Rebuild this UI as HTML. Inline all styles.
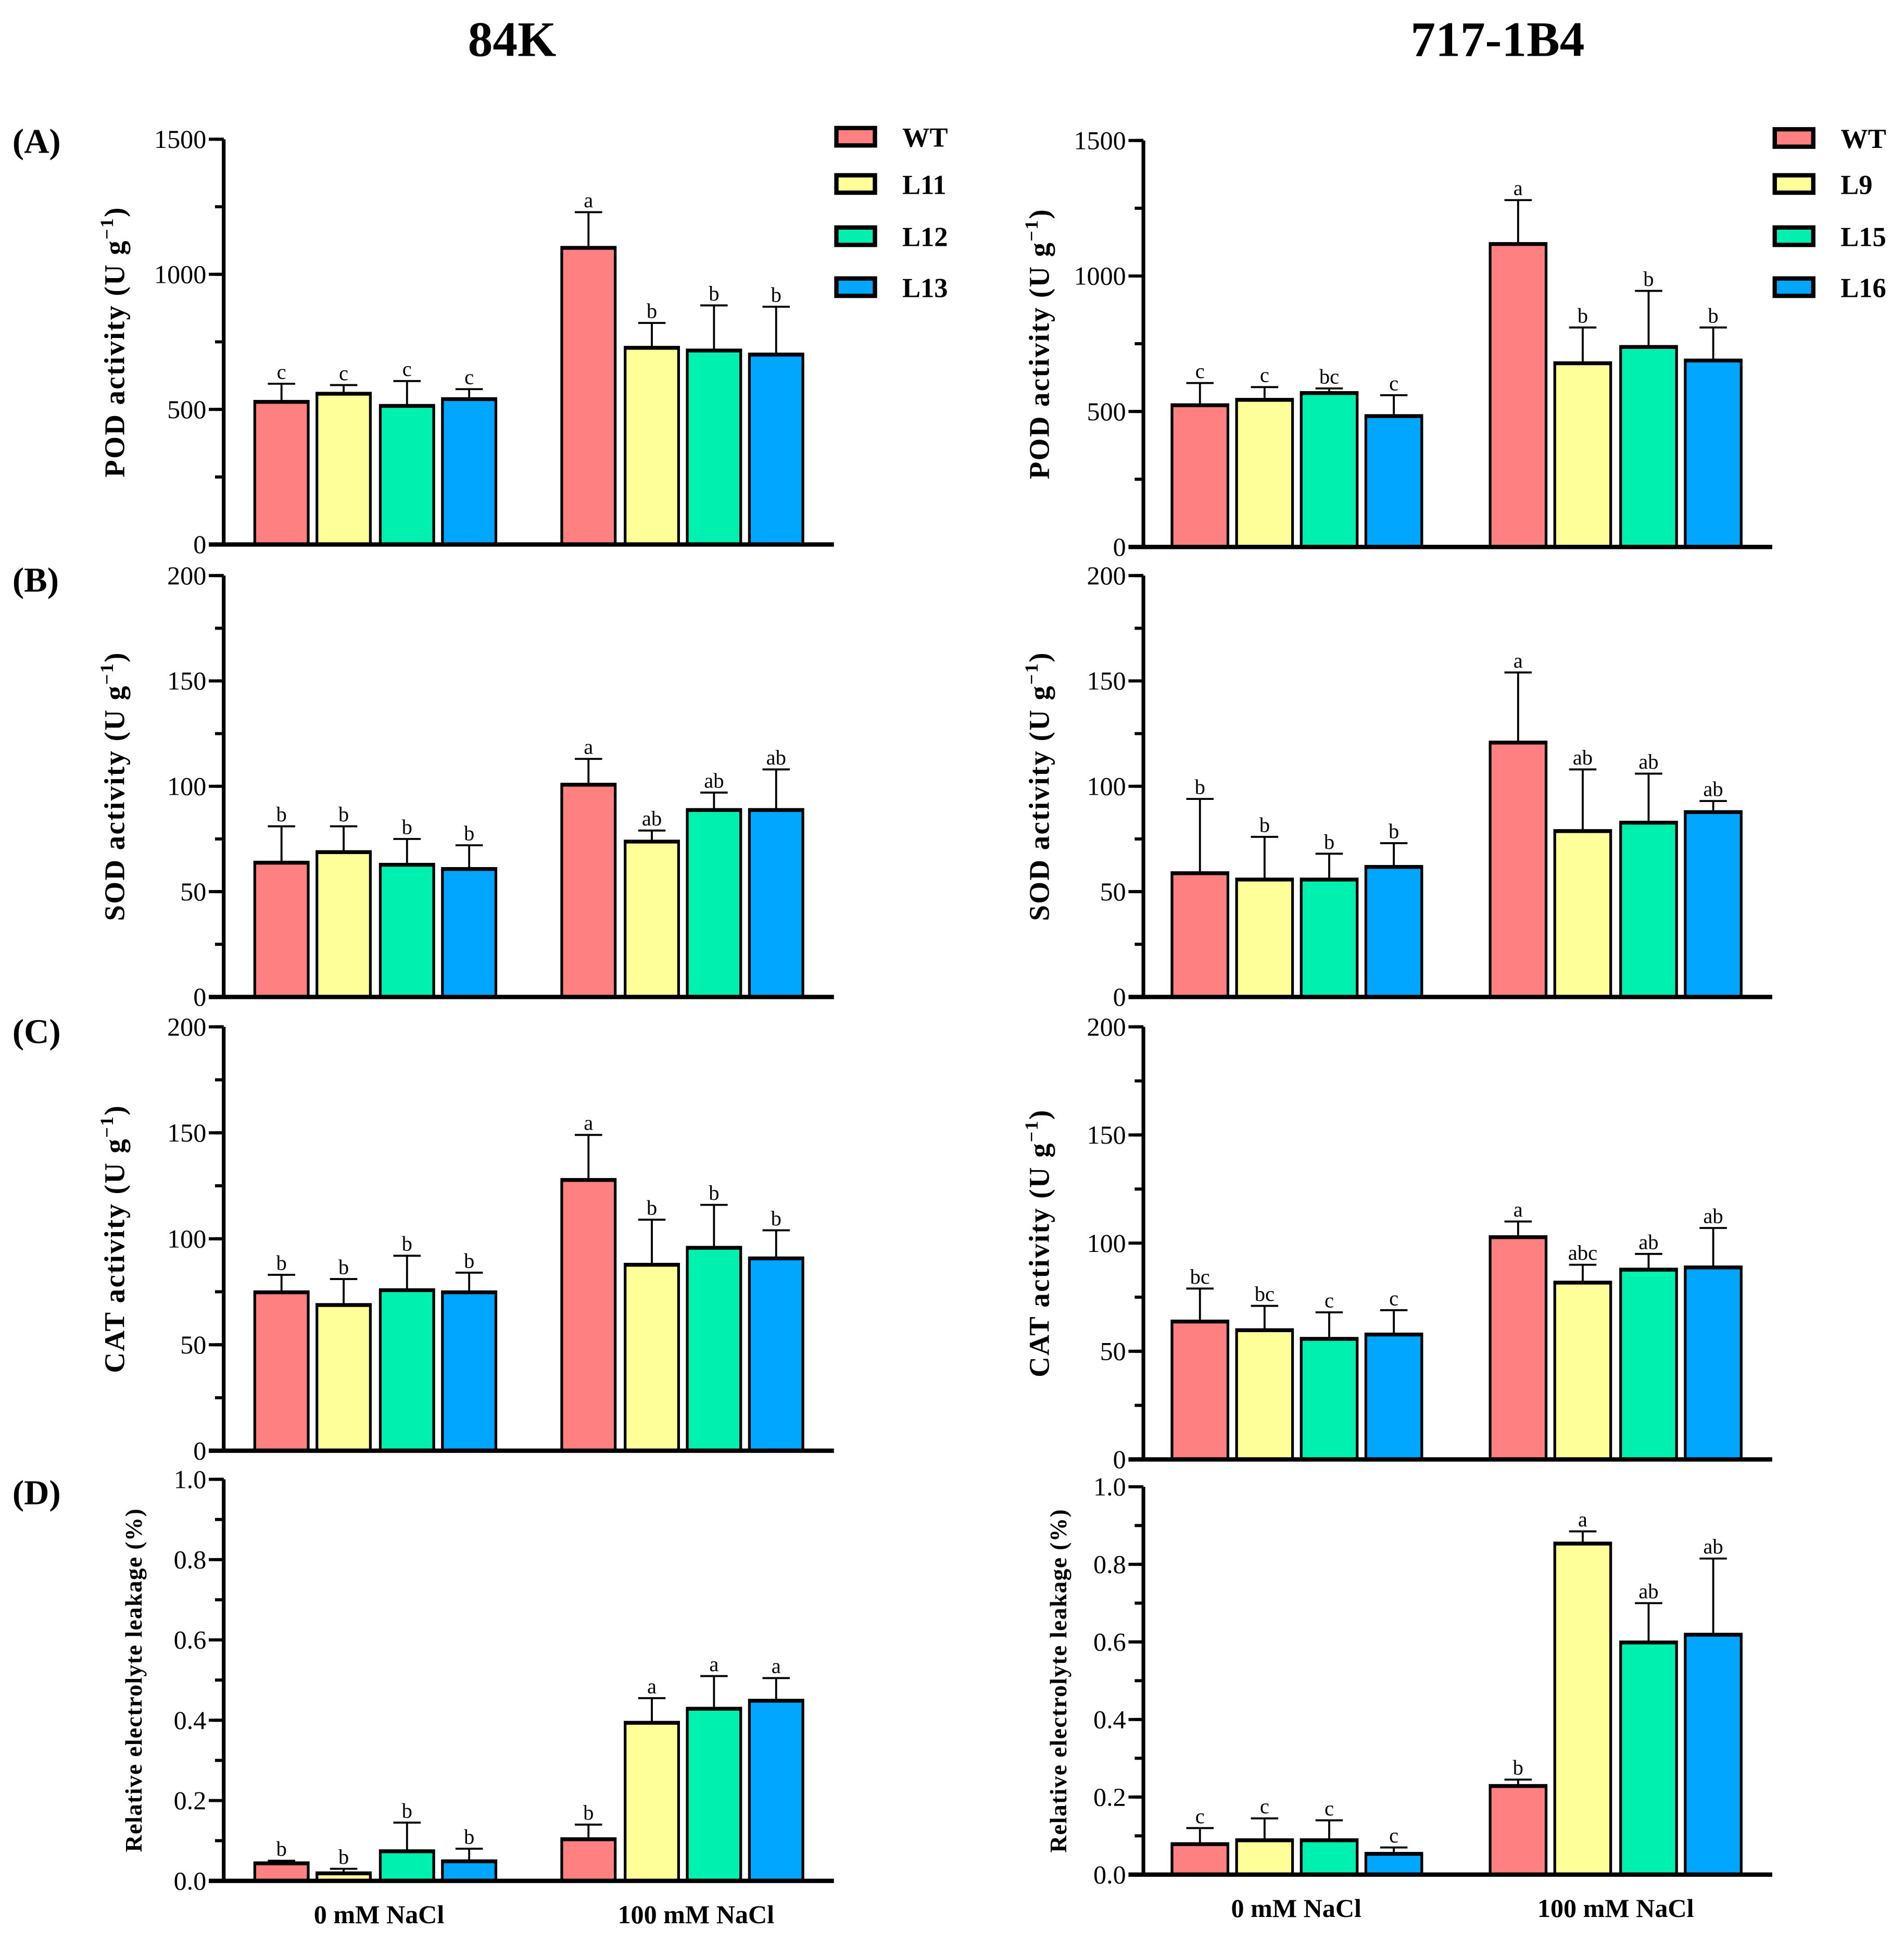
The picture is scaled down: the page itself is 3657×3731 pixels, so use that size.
<!DOCTYPE html>
<html><head><meta charset="utf-8"><style>
html,body{margin:0;padding:0;background:#fff;}
svg{display:block;font-family:"Liberation Serif",serif;}
</style></head><body>
<svg id="fig" width="3657" height="3731" viewBox="0 0 1532 1563" xmlns="http://www.w3.org/2000/svg">
<rect width="1532" height="1563" fill="#fff"/>
<text x="412" y="45" font-size="40" font-weight="bold" text-anchor="middle">84K</text>
<text x="1205" y="45" font-size="40" font-weight="bold" text-anchor="middle">717-1B4</text>
<text x="10" y="123" font-size="28" font-weight="bold">(A)</text>
<text x="10" y="476" font-size="28" font-weight="bold">(B)</text>
<text x="10" y="839" font-size="28" font-weight="bold">(C)</text>
<text x="10" y="1210" font-size="28" font-weight="bold">(D)</text>
</svg>
<script>
const colors = ["#ff8080","#ffff99","#00f0b0","#00a6ff"];
const groups = ["0 mM NaCl","100 mM NaCl"];
const legendLeft = ["WT","L11","L12","L13"];
const legendRight = ["WT","L9","L15","L16"];

const podL = [530,560,515,540,1100,730,720,705];
const podLerr = [65,30,90,35,130,90,165,175];
const podLlet = ["c","c","c","c","a","b","b","b"];
const podR = [525,545,570,485,1120,680,740,690];
const podRerr = [80,45,15,75,160,130,205,120];
const podRlet = ["c","c","bc","c","a","b","b","b"];
const sodL = [64,69,63,61,101,74,89,89];
const sodLerr = [17,12,12,11,12,5,8,19];
const sodLlet = ["b","b","b","b","a","ab","ab","ab"];
const sodR = [59,56,56,62,121,79,83,88];
const sodRerr = [35,20,12,11,33,29,23,5];
const sodRlet = ["b","b","b","b","a","ab","ab","ab"];
const catL = [75,69,76,75,128,88,96,91];
const catLerr = [8,12,16,9,21,21,20,13];
const catLlet = ["b","b","b","b","a","b","b","b"];
const catR = [64,60,56,58,103,82,88,89];
const catRerr = [15,11,12,11,7,8,7,18];
const catRlet = ["bc","bc","c","c","a","abc","ab","ab"];
const relL = [0.045,0.02,0.075,0.05,0.105,0.395,0.43,0.45];
const relLerr = [0.005,0.01,0.07,0.03,0.035,0.06,0.08,0.055];
const relLlet = ["b","b","b","b","b","a","a","a"];
const relR = [0.08,0.09,0.09,0.055,0.23,0.855,0.6,0.62];
const relRerr = [0.04,0.055,0.05,0.015,0.015,0.03,0.1,0.195];
const relRlet = ["c","c","c","c","b","a","ab","ab"];

const podTicks = [0,500,1000,1500];
const actTicks = [0,50,100,150,200];
const relTicks = ["0.0","0.2","0.4","0.6","0.8","1.0"];

const NS="http://www.w3.org/2000/svg";
const svg=document.getElementById('fig');
function mk(tag,attrs,parent){const e=document.createElementNS(NS,tag);for(const k in attrs)e.setAttribute(k,attrs[k]);(parent||svg).appendChild(e);return e;}

const leftX={axis:180,start:168,end:671,bars:[205,255,306,356,452,503,553,603],w:43,yl:92,gx:[305,560]};
const rightX={axis:920,start:908,end:1426,bars:[943,995,1047,1099,1199,1251,1304,1356],w:45,yl:836,gx:[1043,1300]};

function panel(name,L,top,bot,max,ticks,minorStep,vals,errs,lets,ylab,isRel,xlabY){
  const g=mk('g',{});
  
  
  const y=v=>bot-(v/max)*(bot-top);
  vals.forEach((v,i)=>{
    const x=L.bars[i];
    const b=mk('rect',{x:x,y:y(v),width:L.w,height:bot-y(v),fill:colors[i%4],stroke:'#000','stroke-width':2.2},g);
    
    
    mk('line',{x1:x-1,x2:x+L.w+1,y1:y(v)+0.5,y2:y(v)+0.5,stroke:'#000','stroke-width':3},g);
    const cx=x+L.w/2, ye=y(v+errs[i]);
    const eb=mk('path',{d:`M${cx},${y(v)} V${ye} M${cx-11},${ye} H${cx+11}`,stroke:'#000','stroke-width':1.6,fill:'none'},g);
    
    
    const t=mk('text',{x:cx,y:ye-4,'font-size':17,'text-anchor':'middle'},g);
    
    
    t.textContent=lets[i];
  });
  const ya=mk('line',{x1:L.axis,x2:L.axis,y1:top,y2:bot,stroke:'#000','stroke-width':3},g);
  
  
  const xa=mk('line',{x1:L.start,x2:L.end,y1:bot,y2:bot,stroke:'#000','stroke-width':3.5},g);
  
  
  for(let v=0;v<=max+1e-9;v+=minorStep){mk('line',{x1:L.axis-7,x2:L.axis,y1:y(v),y2:y(v),stroke:'#000','stroke-width':2.5},g);}
  ticks.forEach(tv=>{
    const v=parseFloat(tv);
    mk('line',{x1:L.axis-12,x2:L.axis,y1:y(v),y2:y(v),stroke:'#000','stroke-width':2.5},g);
    const t=mk('text',{x:L.axis-14,y:y(v)+7,'font-size':21,'text-anchor':'end'},g);
    
    
    t.textContent=tv;
  });
  const cy=(top+bot)/2;
  const yt=mk('text',{x:0,y:0,'font-size':isRel?19:23,'letter-spacing':isRel?0.6:1,'font-weight':'bold','text-anchor':'middle',transform:`translate(${isRel?L.yl+22:L.yl+8},${cy}) rotate(-90)`},g);
  
  
  if(isRel){yt.textContent=ylab;}else{
    yt.textContent=ylab+' (U g';
    const s=mk('tspan',{dy:-9,'font-size':15},yt);s.textContent='−1';
    const e=mk('tspan',{dy:9},yt);e.textContent=')';
  }
  if(xlabY){groups.forEach((gname,k)=>{
    const t=mk('text',{x:L.gx[k],y:xlabY,'font-size':21,'font-weight':'bold','text-anchor':'middle'},g);
    
    
    t.textContent=gname;
  });}
}

function legend(x,names,ys){
  names.forEach((n,i)=>{
    const r=mk('rect',{x:x,y:ys[i]-7,width:31,height:14,fill:colors[i],stroke:'#000','stroke-width':3.5});
    
    
    const t=mk('text',{x:x+53,y:ys[i]+8,'font-size':22,'font-weight':'bold'});
    
    
    t.textContent=n;
  });
}

panel('pod-84k',leftX,112,438,1500,podTicks,250,podL,podLerr,podLlet,'POD activity',false,0);
panel('sod-84k',leftX,463,802,200,actTicks,25,sodL,sodLerr,sodLlet,'SOD activity',false,0);
panel('cat-84k',leftX,826,1167,200,actTicks,25,catL,catLerr,catLlet,'CAT activity',false,0);
panel('rel-84k',leftX,1190,1513,1.0,relTicks,0.1,relL,relLerr,relLlet,'Relative electrolyte leakage (%)',true,1547);
panel('pod-717',rightX,113,440,1500,podTicks,250,podR,podRerr,podRlet,'POD activity',false,0);
panel('sod-717',rightX,463,802,200,actTicks,25,sodR,sodRerr,sodRlet,'SOD activity',false,0);
panel('cat-717',rightX,826,1174,200,actTicks,25,catR,catRerr,catRlet,'CAT activity',false,0);
panel('rel-717',rightX,1196,1508,1.0,relTicks,0.1,relR,relRerr,relRlet,'Relative electrolyte leakage (%)',true,1542);
legend(673,legendLeft,[110,148,190,231]);
legend(1428,legendRight,[111,148,190,231]);
</script>
</body></html>
